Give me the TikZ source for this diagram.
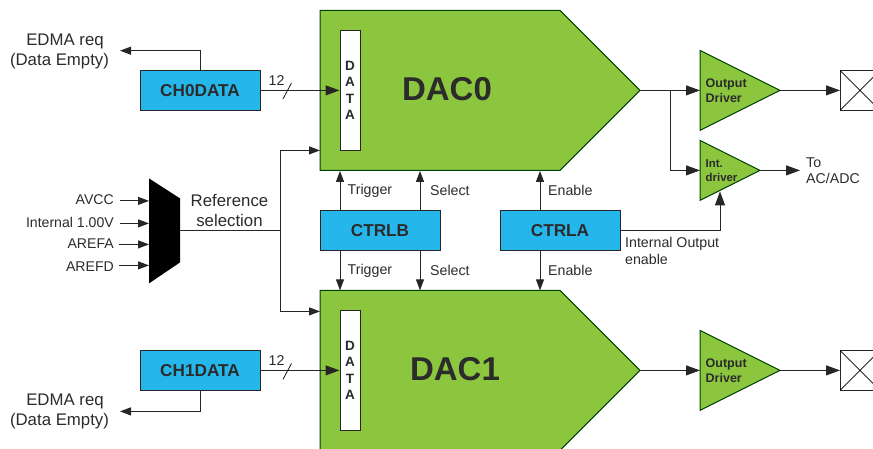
\documentclass[tikz,border=0pt]{standalone}
\usepackage{fontspec}
\setmainfont{Liberation Sans}
\usetikzlibrary{arrows.meta}
\definecolor{dacgreen}{HTML}{8CC63F}
\definecolor{regblue}{HTML}{25B7EC}
\definecolor{txt}{HTML}{2B2B2B}
\tikzset{
  x=1pt,y=-1pt,
  wire/.style={draw=black!85,line width=1pt},
  arr/.style={wire,-{Triangle[length=14pt,width=10pt]}},
  arrs/.style={wire,-{Triangle[length=11pt,width=8pt]}},
  green/.style={draw=black!75!green,fill=dacgreen,line width=1pt},
  regbox/.style={draw=black!85,fill=regblue,line width=1pt,minimum width=120pt,minimum height=40pt,inner sep=0pt,text=txt,font=\fontsize{17.2}{17}\selectfont\bfseries},
  databox/.style={draw=black!85,fill=white,line width=1pt,minimum width=20pt,minimum height=120pt,inner sep=0pt,text=txt,font=\fontsize{13.5}{16.6}\selectfont\bfseries,align=center},
  lab/.style={inner sep=0pt,text=txt,font=\fontsize{14.2}{14}\selectfont,anchor=west},
  big/.style={inner sep=0pt,text=txt,font=\fontsize{16.8}{20.5}\selectfont,align=center},
  inlab/.style={inner sep=0pt,text=txt,font=\fontsize{14.1}{14}\selectfont,anchor=east},
  drv/.style={inner sep=0pt,text=txt,align=left,anchor=west,font=\fontsize{12.5}{15}\selectfont\bfseries},
  dactitle/.style={inner sep=0pt,text=txt,font=\fontsize{33}{33}\selectfont\bfseries},
  padbox/.style={draw=black!85,fill=white,line width=1pt}
}
\begin{document}
\begin{tikzpicture}
\useasboundingbox (0,-0.4) rectangle (873,448.6);
\clip (0,-0.4) rectangle (873,448.6);
% DAC bodies
\draw[green] (320,10) -- (560,10) -- (640,90) -- (560,170) -- (320,170) -- cycle;
\draw[green] (320,290) -- (560,290) -- (640,370) -- (560,450) -- (320,450) -- cycle;
\coordinate (dac0out) at (640,90);
\coordinate (dac1out) at (640,370);
\node[dactitle] (dac0t) at (447,89) {DAC0};
\node[dactitle] (dac1t) at (455,369) {DAC1};
\node[databox] (data0) at (350,90) {D\\A\\T\\A};
\node[databox] (data1) at (350,370) {D\\A\\T\\A};
% registers
\node[regbox] (ch0) at (200,90) {CH0DATA};
\node[regbox] (ch1) at (200,370) {CH1DATA};
\node[regbox] (ctrlb) at (380,230) {CTRLB};
\node[regbox] (ctrla) at (560,230) {CTRLA};
% drivers
\draw[green] (700,50) -- (780,90) -- (700,130) -- cycle;
\draw[green] (700,140) -- (760,170) -- (700,200) -- cycle;
\draw[green] (700,330) -- (780,370) -- (700,410) -- cycle;
\coordinate (od0in) at (700,90);
\coordinate (od0out) at (780,90);
\coordinate (idin) at (700,170);
\coordinate (idout) at (760,170);
\coordinate (iden) at (720,191);
\coordinate (od1in) at (700,370);
\coordinate (od1out) at (780,370);
\node[drv] (od0t) at (705.5,90) {Output\\Driver};
\node[drv,font=\fontsize{11.4}{13.5}\selectfont\bfseries] (idt) at (705.5,170) {Int.\\driver};
\node[drv] (od1t) at (705.5,370) {Output\\Driver};
% pads
\foreach \n/\y in {pad0/70,pad1/350}{
  \draw[padbox] (840,\y) rectangle (890,\y+40);
  \draw[line width=0.7pt] (840,\y) -- (880,\y+40) (840,\y+40) -- (880,\y);
  \coordinate (\n) at (840,\y+20);
}
% mux
\fill[black] (149,178) -- (180,198) -- (180,262) -- (149,283) -- cycle;
\coordinate (muxout) at (180,230);
\coordinate (refj) at (280,230);
\coordinate (dac0ref) at (320,150);
\coordinate (dac1ref) at (320,311);
\foreach \n/\y in {ma/200.5,mb/223,mc/244,md/265}{\coordinate (\n) at (149,\y);}
\coordinate (sa) at (120,200.5);
\coordinate (sb) at (120,223);
\coordinate (sc) at (119,244);
\coordinate (sd) at (119,265);
\node[inlab] (avcc) at (114,199.5) {AVCC};
\node[inlab] (int) at (114,222.5) {Internal 1.00V};
\node[inlab] (arefa) at (114,243) {AREFA};
\node[inlab] (arefd) at (114,266) {AREFD};
\draw[arrs] (sa) -- (ma);
\draw[arrs] (sb) -- (mb);
\draw[arrs] (sc) -- (mc);
\draw[arrs] (sd) -- (md);
\node[big] (reftxt) at (229.5,210) {Reference\\selection};
\draw[wire] (muxout) -- (refj);
\draw[arrs] (refj) |- (dac0ref);
\draw[arrs] (refj) |- (dac1ref);
% data paths
\coordinate (ed0) at (120,50.3);
\coordinate (ed1) at (120,411);
\draw[arrs] (ch0.north) |- (ed0);
\draw[arrs] (ch1.south) |- (ed1);
\node[big] (ed0t) at (59.5,51.3) {\hspace{11pt}EDMA req\\(Data Empty)};
\node[big] (ed1t) at (59.5,411.3) {\hspace{11pt}EDMA req\\(Data Empty)};
\draw[arr] (ch0.east) -- (data0.west);
\draw[arr] (ch1.east) -- (data1.west);
\coordinate (sl0a) at (283,98.5);\coordinate (sl0b) at (291.5,82.5);
\coordinate (sl1a) at (283,379);\coordinate (sl1b) at (291.5,363);
\draw[line width=0.7pt] (sl0a) -- (sl0b);
\draw[line width=0.7pt] (sl1a) -- (sl1b);
\node[lab] (n0) at (268.5,80) {12};
\node[lab] (n1) at (268.5,360) {12};
% control paths
\coordinate (tr0) at (340,170.5);\coordinate (se0) at (420,170.5);\coordinate (en0) at (540,170.5);
\coordinate (tr1) at (340,290);\coordinate (se1) at (420,290);\coordinate (en1) at (540,290);
\draw[arrs] (ctrlb.north west -| tr0) -- (tr0);
\draw[arrs] (ctrlb.north west -| se0) -- (se0);
\draw[arrs] (ctrla.north west -| en0) -- (en0);
\draw[arrs] (ctrlb.south west -| tr1) -- (tr1);
\draw[arrs] (ctrlb.south west -| se1) -- (se1);
\draw[arrs] (ctrla.south west -| en1) -- (en1);
\node[lab] (t0) at (347.5,190) {Trigger};
\node[lab] (s0) at (430,190) {Select};
\node[lab] (e0) at (548,190) {Enable};
\node[lab] (t1) at (347.5,270) {Trigger};
\node[lab] (s1) at (430,270) {Select};
\node[lab] (e1) at (548,270) {Enable};
% outputs
\coordinate (branch) at (670,90);
\draw[arr] (dac0out) -- (od0in);
\draw[arr] (branch) |- (idin);
\draw[arr] (od0out) -- (pad0);
\draw[arr] (dac1out) -- (od1in);
\draw[arr] (od1out) -- (pad1);
\coordinate (toac) at (800,170);
\draw[arr] (idout) -- (toac);
\draw[arr] (ctrla.east) -| (iden);
\node[lab,align=left] (ac) at (806,170) {To\\[2pt]AC/ADC};
\node[lab,align=left,font=\fontsize{14.2}{17}\selectfont] (ioe) at (625,250.5) {Internal Output\\enable};
\end{tikzpicture}
\end{document}
